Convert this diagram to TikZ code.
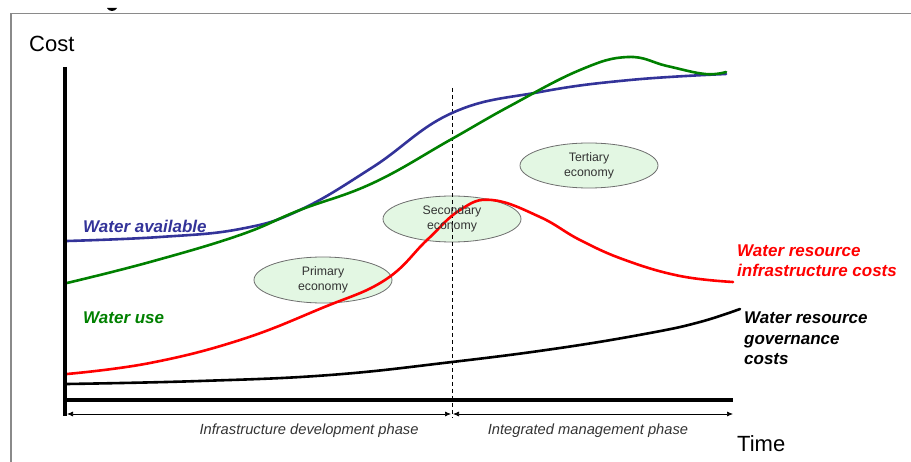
\documentclass[tikz,border=0pt]{standalone}
\usepackage{fontspec}
\setmainfont{Liberation Sans}
\usetikzlibrary{arrows.meta,shapes.geometric}
\definecolor{wblue}{HTML}{333399}
\definecolor{wgreen}{HTML}{008000}
\definecolor{wred}{HTML}{FF0000}
\definecolor{efill}{HTML}{E3F7E3}
\definecolor{eborder}{HTML}{6E6E6E}
\definecolor{txtgray}{HTML}{333333}
\definecolor{framegray}{HTML}{8A8A8A}
\tikzset{
  curve/.style={line width=2.6pt, line cap=round, line join=round},
  econ/.style={ellipse, draw=eborder, fill=efill, line width=0.8pt, inner sep=0pt,
    minimum width=138pt, minimum height=46pt},
  econtext/.style={align=center, text=txtgray, font=\fontsize{12.3}{15}\selectfont, inner sep=0pt},
  axislabel/.style={font=\fontsize{22}{26}\selectfont, inner sep=0pt, anchor=base west},
  serieslabel/.style={font=\fontsize{17}{20.5}\selectfont\bfseries\itshape, inner sep=0pt, anchor=base west, align=left},
  phaselabel/.style={font=\fontsize{14.7}{17}\selectfont\itshape, text=txtgray, inner sep=0pt, anchor=base},
  phasearrow/.style={line width=0.7pt, {Latex[length=6pt,width=5pt]}-{Latex[length=6pt,width=5pt]}},
}
\begin{document}
\begin{tikzpicture}[x=1pt,y=-1pt]
\useasboundingbox (0,0) rectangle (911,462);
% frame
\draw[framegray, line width=1.6pt] (11,462) -- (11,13.5) -- (911,13.5);
\fill (107,8) .. controls (109,12) and (115,12) .. (117,8) -- cycle;

% ellipses
\node[econ] (primary) at (323,280) {};
\node[econ] (secondary) at (452,219) {};
\node[econ, minimum height=45pt] (tertiary) at (589,165.5) {};

% dashed phase divider
\coordinate (dtop) at (452,88);
\coordinate (dbot) at (452,418);
\draw[dashed, dash pattern=on 4pt off 3pt, line width=0.8pt] (dtop) -- (dbot);

% curves
\draw[curve, wblue] plot[smooth, tension=0.7] coordinates {(67,241) (160,237) (240,229) (300,210) (373,167) (452,113) (540,92) (630,80) (726,74)};
\draw[curve, wgreen] plot[smooth, tension=0.7] coordinates {(67,283) (150,262) (240,235) (300,210) (373,183) (450,140) (510,106) (580,70) (628,57) (667,66) (705,74) (726,72)};
\draw[curve, wred] plot[smooth, tension=0.7] coordinates {(67,374) (150,363) (240,340) (322,308) (385,280) (427,240) (460,210) (492,200) (540,217) (580,240) (625,260) (680,276) (733,282)};
\draw[curve, black] plot[smooth, tension=0.7] coordinates {(67,384) (200,381) (330,375) (452,362) (560,348) (650,333) (700,322) (740,309)};

% axes
\draw[line width=3.6pt] (64,400) -- (733,400);
\draw[line width=4.6pt] (65,67) -- (65,416);

% phase arrows
\coordinate (a1) at (67,414);
\coordinate (a2) at (451,414);
\coordinate (b1) at (453,414);
\coordinate (b2) at (733,414);
\draw[phasearrow] (a1) -- (a2);
\draw[phasearrow] (b1) -- (b2);

% ellipse texts
\node[econtext] (primaryt) at (primary) {Primary\\economy};
\node[econtext] (secondaryt) at (secondary) {Secondary\\economy};
\node[econtext] (tertiaryt) at (tertiary) {Tertiary\\economy};

% labels
\node[axislabel] (cost) at (29,52) {Cost};
\node[axislabel] (time) at (737,451) {Time};
\node[phaselabel] (ph1) at (309,435) {Infrastructure development phase};
\node[phaselabel] (ph2) at (588,435) {Integrated management phase};
\node[serieslabel, text=wblue] (wa) at (83,233) {Water available};
\node[serieslabel, text=wgreen] (wu) at (83,324) {Water use};
\node[serieslabel, text=wred] (wric) at (737,277) {Water resource\\infrastructure costs};
\node[serieslabel, text=black] (wrgc) at (744,365) {Water resource\\governance\\costs};
\end{tikzpicture}
\end{document}
